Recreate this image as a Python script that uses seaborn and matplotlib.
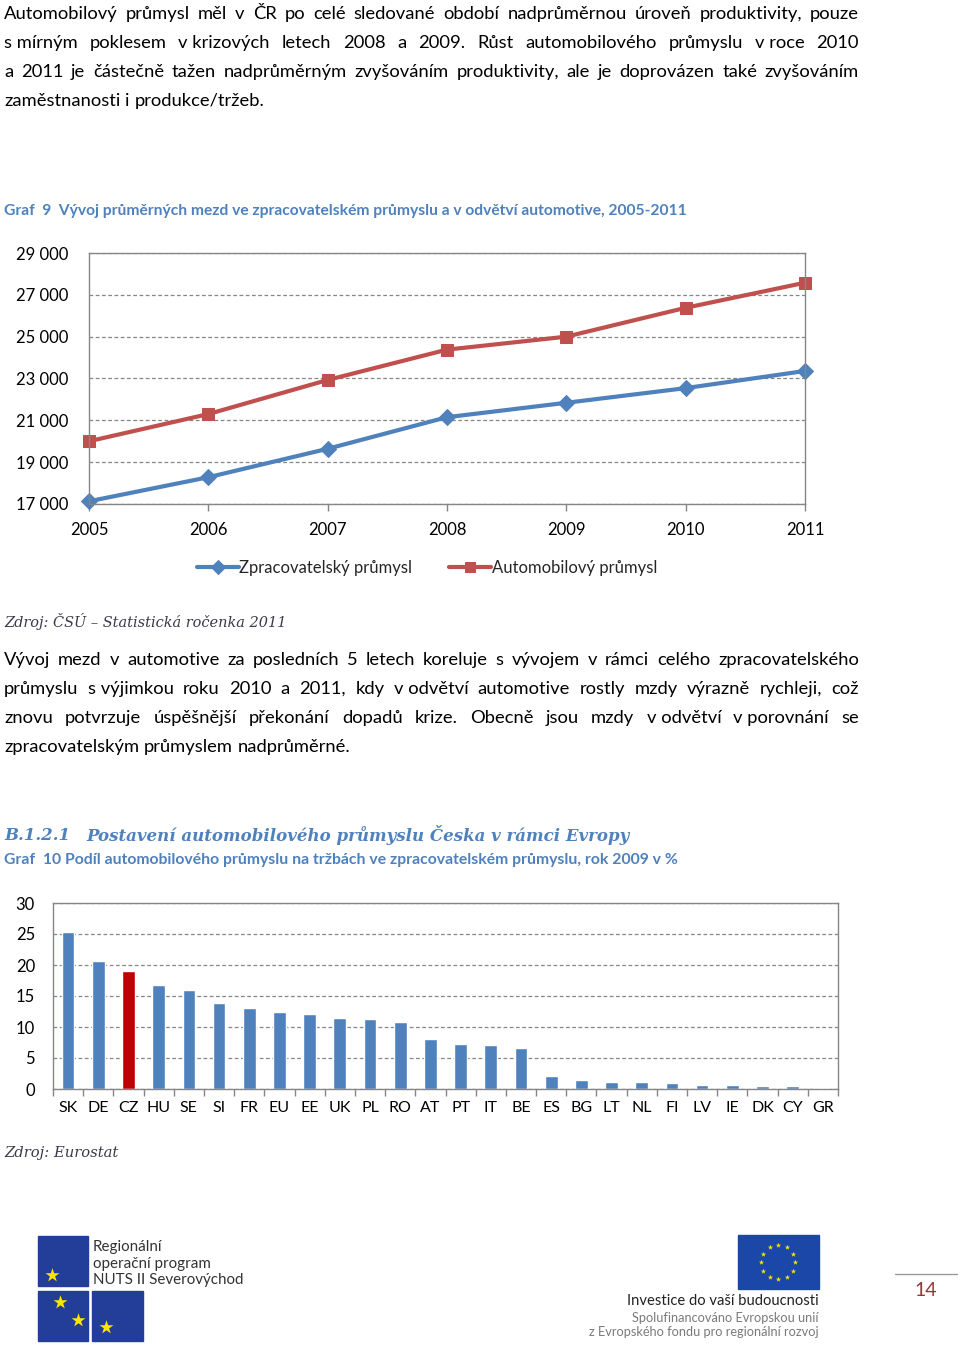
import numpy as np
import pandas as pd
import matplotlib
matplotlib.use("Agg")
import matplotlib.pyplot as plt
import seaborn as sns
from matplotlib.patches import Rectangle

# Graf 9 - prumerne mzdy
roky = [2005, 2006, 2007, 2008, 2009, 2010, 2011]
mzdy_zpracovatelsky = [17130, 18280, 19640, 21150, 21840, 22540, 23360]
mzdy_automobilovy = [20000, 21300, 22930, 24380, 25000, 26380, 27580]
odvetvi = ["Zpracovatelský průmysl", "Automobilový průmysl"]
mzdy_ticks = [17000, 19000, 21000, 23000, 25000, 27000, 29000]
mzdy_labels = ["17 000", "19 000", "21 000", "23 000", "25 000", "27 000", "29 000"]

# Graf 10 - podil automobiloveho prumyslu na trzbach (%)
zeme = ["SK", "DE", "CZ", "HU", "SE", "SI", "FR", "EU", "EE", "UK", "PL", "RO", "AT",
        "PT", "IT", "BE", "ES", "BG", "LT", "NL", "FI", "LV", "IE", "DK", "CY", "GR"]
podil = [25.3, 20.6, 19.0, 16.8, 15.9, 13.8, 13.0, 12.5, 12.1, 11.5, 11.3, 10.8, 8.0,
         7.3, 7.1, 6.6, 2.1, 1.5, 1.2, 1.1, 1.0, 0.7, 0.6, 0.55, 0.55, 0.2]
podil_ticks = [0, 5, 10, 15, 20, 25, 30]

odstavec1 = [
    "Automobilový průmysl měl v ČR po celé sledované období nadprůměrnou úroveň produktivity, pouze",
    "s\u00a0mírným poklesem v\u00a0krizových letech 2008 a 2009. Růst automobilového průmyslu v\u00a0roce 2010",
    "a 2011 je částečně tažen nadprůměrným zvyšováním produktivity, ale je doprovázen také zvyšováním",
    "zaměstnanosti i produkce/tržeb.",
]
odstavec2 = [
    "Vývoj mezd v automotive za posledních 5 letech koreluje s vývojem v rámci celého zpracovatelského",
    "průmyslu s\u00a0výjimkou roku 2010 a 2011, kdy v\u00a0odvětví automotive rostly mzdy výrazně rychleji, což",
    "znovu potvrzuje úspěšnější překonání dopadů krize. Obecně jsou mzdy v\u00a0odvětví v\u00a0porovnání se",
    "zpracovatelským průmyslem nadprůměrné.",
]

MODRA = "#4F81BD"
CERVENA = "#C0504D"
SEDA = "#868686"
SANS = ["Lato", "DejaVu Sans"]
SERIF = ["DejaVu Serif"]

sns.set_theme(style="white")
plt.rcParams["font.family"] = SANS

W, H = 960, 1347
fig = plt.figure(figsize=(9.6, 13.47), dpi=100)
fig.patch.set_facecolor("white")

# page layer in pixel coordinates
pg = fig.add_axes([0, 0, 1, 1])
pg.set_xlim(0, W)
pg.set_ylim(H, 0)
pg.axis("off")
R = fig.canvas.get_renderer()


def box(l, t, r, b):
    return [l / W, 1 - b / H, (r - l) / W, (b - t) / H]


def fit(x0, x1, y, s, ha="left", **kw):
    t = pg.text(x0 if ha == "left" else x1, y, s, fontsize=10, ha=ha, va="center", **kw)
    w = t.get_window_extent(R).width
    t.set_fontsize(10 * (x1 - x0) / w)
    return t


def justify(lines, y0, size=13.2, x0=4, x1=859, step=29):
    for i, line in enumerate(lines):
        y = y0 + i * step
        words = line.split(" ")
        ts = [pg.text(0, y, w, fontsize=size, family=SANS, va="baseline", color="black") for w in words]
        ws = [t.get_window_extent(R).width for t in ts]
        if i == len(lines) - 1:
            gap = size * 0.26 * 100 / 72
        else:
            gap = (x1 - x0 - sum(ws)) / (len(ws) - 1)
        x = x0
        for t, w in zip(ts, ws):
            t.set_x(x)
            x += w + gap


justify(odstavec1, 19)
justify(odstavec2, 665)

# captions
fit(4, 690, 211, "Graf  9  Vývoj průměrných mezd ve zpracovatelském průmyslu a v odvětví automotive, 2005-2011",
    color=MODRA, fontweight="bold", family=SANS)
fit(4, 286, 622, "Zdroj: ČSÚ – Statistická ročenka 2011", color="#3a3a4a", style="italic", family=SERIF)
h = fit(86, 628, 835, "Postavení automobilového průmyslu Česka v rámci Evropy",
        color=MODRA, fontweight="bold", style="italic", family=SERIF)
pg.text(4, 835, "B.1.2.1", fontsize=h.get_fontsize(), color=MODRA, fontweight="bold",
        style="italic", family=SERIF, va="center")
fit(4, 677, 860, "Graf  10 Podíl automobilového průmyslu na tržbách ve zpracovatelském průmyslu, rok 2009 v %",
    color=MODRA, fontweight="bold", family=SANS)
fit(4, 118, 1153, "Zdroj: Eurostat", color="#3a3a4a", style="italic", family=SERIF)

# ---- Graf 9: line chart
df_mzdy = pd.DataFrame({
    "rok": roky * 2,
    "mzda": mzdy_zpracovatelsky + mzdy_automobilovy,
    "odvetvi": [odvetvi[0]] * len(roky) + [odvetvi[1]] * len(roky),
})
ax1 = fig.add_axes(box(89, 253, 805, 504))
sns.lineplot(data=df_mzdy, x="rok", y="mzda", hue="odvetvi", style="odvetvi",
             palette={odvetvi[0]: MODRA, odvetvi[1]: CERVENA},
             markers={odvetvi[0]: "D", odvetvi[1]: "s"}, dashes=False,
             linewidth=3, markersize=8.5, ax=ax1)
for ln in ax1.lines:
    ln.set_markeredgecolor(ln.get_color())
    ln.set_clip_on(False)
ax1.set_xlim(2005, 2011)
ax1.set_ylim(17000, 29000)
ax1.set_yticks(mzdy_ticks, mzdy_labels)
ax1.set_xticks(roky)
ax1.set_xlabel("")
ax1.set_ylabel("")
ax1.yaxis.grid(True, linestyle=(0, (3, 2)), color=SEDA, linewidth=0.9)
ax1.tick_params(axis="y", length=0, pad=15, labelsize=12, labelcolor="black")
ax1.tick_params(axis="x", length=5, width=1, color=SEDA, direction="out", pad=8,
                labelsize=12, labelcolor="black", bottom=True)
for sp in ax1.spines.values():
    sp.set_color(SEDA)
    sp.set_linewidth(1)
hnd, lab = ax1.get_legend_handles_labels()
for hh in hnd:
    hh.set_markersize(7)
    hh.set_markeredgecolor(hh.get_color())
ax1.legend(hnd, lab, loc="center", bbox_to_anchor=(427 / W, 1 - 568 / H),
           bbox_transform=fig.transFigure, ncol=2, frameon=False, fontsize=12,
           handlelength=2.5, handletextpad=0.05, columnspacing=2.2)

# ---- Graf 10: bar chart
ax2 = fig.add_axes(box(53, 903, 838, 1089))
barvy = {z: ("#C00000" if z == "CZ" else MODRA) for z in zeme}
sns.barplot(x=zeme, y=podil, hue=zeme, palette=barvy, width=0.42, saturation=1,
            legend=False, ax=ax2)
ax2.set_xlim(-0.5, len(zeme) - 0.5)
ax2.set_ylim(0, 30)
ax2.set_yticks(podil_ticks)
ax2.yaxis.grid(True, linestyle=(0, (3, 2)), color=SEDA, linewidth=0.9)
ax2.set_axisbelow(True)
ax2.set_xticks(np.arange(len(zeme) + 1) - 0.5, minor=True)
ax2.tick_params(axis="x", which="major", length=0, pad=9, labelsize=11.5, labelcolor="black")
ax2.tick_params(axis="x", which="minor", length=5, color=SEDA, bottom=True)
ax2.tick_params(axis="y", length=0, pad=13, labelsize=12, labelcolor="black")
for sp in ax2.spines.values():
    sp.set_color(SEDA)
    sp.set_linewidth(1)

# ---- footer
LOGO = "#233E99"
for l, t, r, b in [(38, 1236, 88, 1286), (38, 1291, 88, 1341), (92, 1291, 143, 1341)]:
    pg.add_patch(Rectangle((l, t), r - l, b - t, color=LOGO, zorder=1))
pg.scatter([52, 60, 78, 106], [1275, 1302, 1320, 1327], marker="*", s=110,
           color="#FFE600", zorder=2, linewidths=0)
f = fit(93, 243, 1280, "NUTS II Severovýchod", color="#333333", family=SANS)
for yy, s in [(1247, "Regionální"), (1264, "operační program")]:
    pg.text(93, yy, s, fontsize=f.get_fontsize(), color="#333333", va="center", family=SANS)

pg.add_patch(Rectangle((738, 1235), 81, 54, color="#1B48A8", zorder=1))
uhly = np.linspace(0, 2 * np.pi, 13)[:-1]
pg.scatter(778 + 17 * np.cos(uhly), 1262 + 17 * np.sin(uhly), marker="*", s=16,
           color="#FFE600", zorder=2, linewidths=0)
fit(628, 819, 1301, "Investice do vaší budoucnosti", ha="right", color="#222222", family=SANS)
g = fit(588, 819, 1332, "z Evropského fondu pro regionální rozvoj", ha="right", color="#7a7a7a", family=SANS)
pg.text(819, 1318, "Spolufinancováno Evropskou unií", fontsize=g.get_fontsize(), ha="right",
        va="center", color="#7a7a7a", family=SANS)

pg.plot([895, 957], [1274, 1274], color="#9a9a9a", linewidth=1)
pg.text(926, 1290, "14", fontsize=14, color="#943634", ha="center", va="center", family=SANS)

fig.savefig("out.png", dpi=100)
